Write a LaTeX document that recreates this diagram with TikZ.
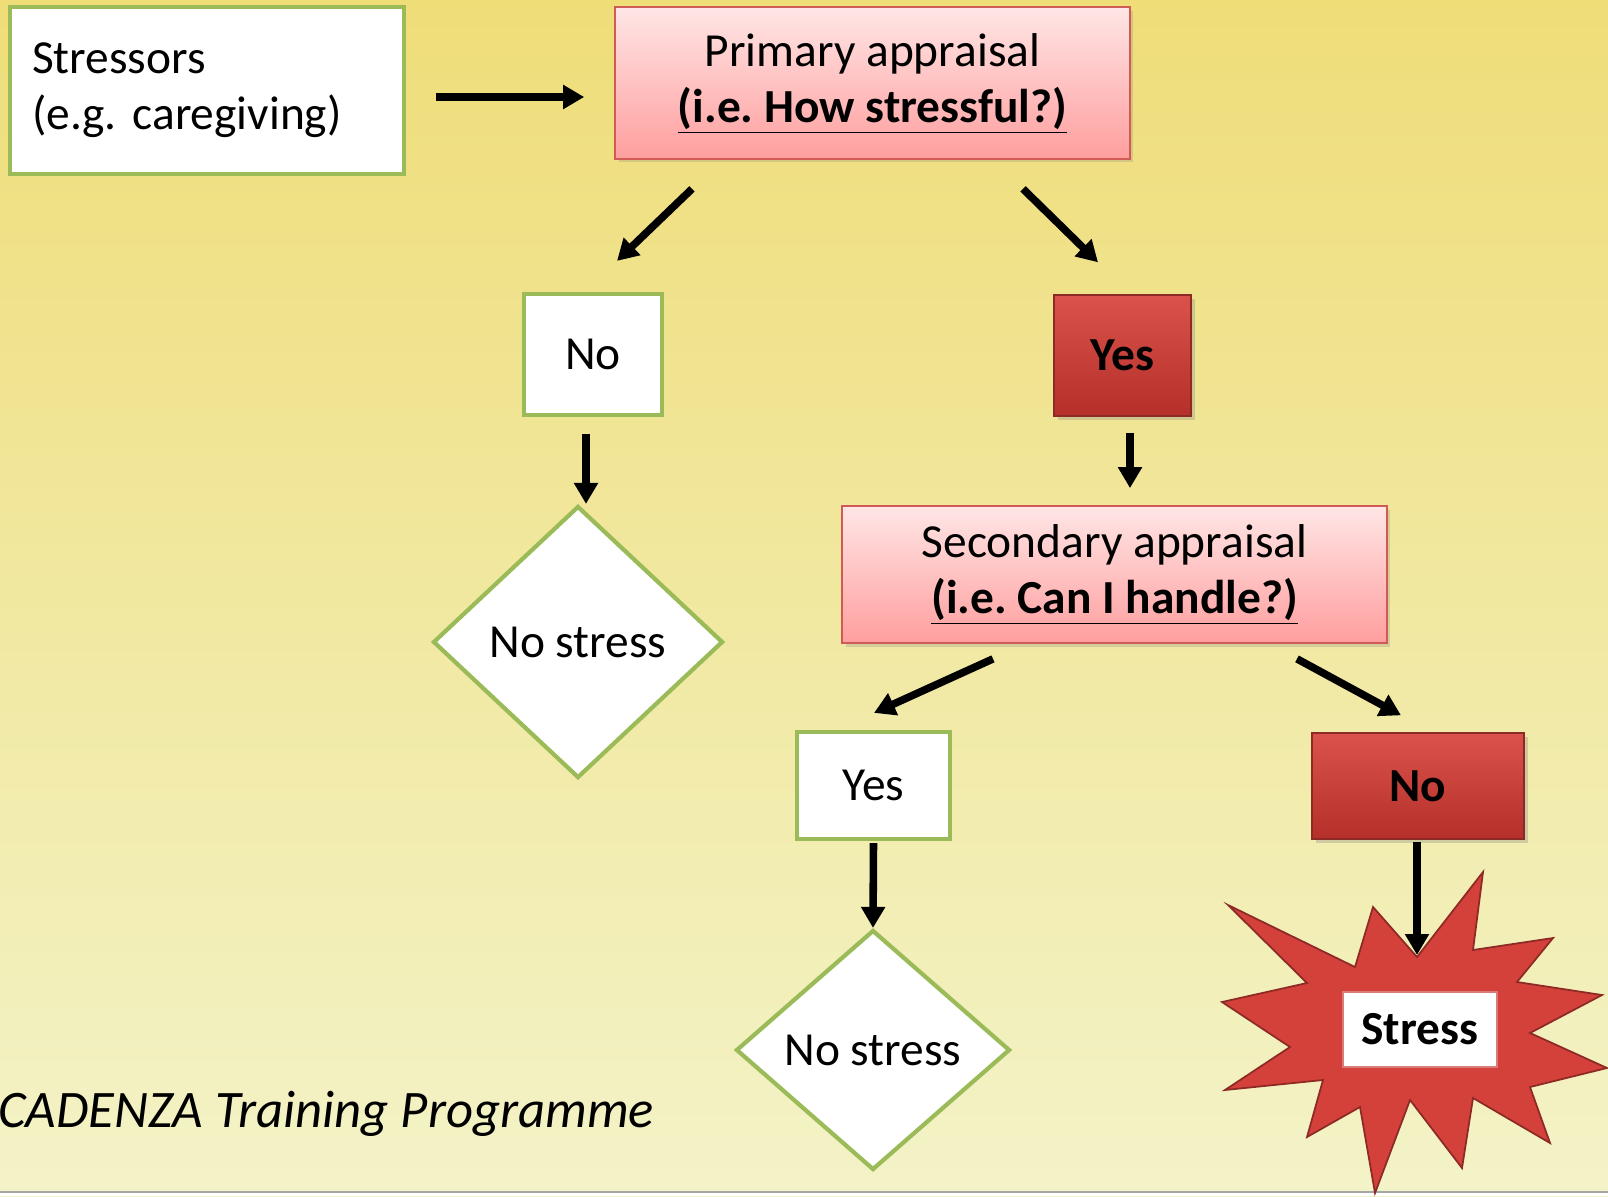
\documentclass[tikz,border=0pt]{standalone}
\usepackage{fontspec}
\setmainfont{Carlito}
\usetikzlibrary{arrows.meta,shapes.geometric,shadows,calc}
\definecolor{leafgreen}{HTML}{9BBB59}
\definecolor{pinkedge}{HTML}{D05A55}
\definecolor{redtop}{HTML}{DA524B}
\definecolor{redbot}{HTML}{B5302A}
\definecolor{redline}{HTML}{8E2A25}
\definecolor{starred}{HTML}{D4413B}

\begin{document}
\begin{tikzpicture}[x=0.02cm,y=-0.02cm,>={Triangle[length=0.42cm,width=0.46cm]}]
  \tikzset{
  box_base/.style = {align=center, inner sep=0pt, text centered,
    font=\fontsize{27}{32}\selectfont},
  box_g/.style = {box_base, rectangle, draw=leafgreen, line width=2.4pt,
    fill=white},% green framed box
  box_p/.style = {box_base, rectangle, draw=pinkedge, line width=1pt,
    top color=red!10, bottom color=red!38!white,
    drop shadow={opacity=0.25, shadow xshift=2pt, shadow yshift=-2pt}},% pink question box
  box_r/.style = {box_base, rectangle, draw=redline, line width=0.8pt,
    top color=redtop, bottom color=redbot, font=\fontsize{27}{32}\selectfont\bfseries,
    drop shadow={opacity=0.3, shadow xshift=2pt, shadow yshift=-2pt}},% red answer box
  dia_g/.style = {box_base, diamond, draw=leafgreen, line width=2.4pt,
    fill=white},% green end state
  arr/.style = {->, line width=4.3pt}
}

% page and background
\useasboundingbox (0,0) rectangle (1608,1196);
\clip (0,0) rectangle (1608,1196);
\shade[top color={rgb,255:red,239;green,221;blue,120},
  middle color={rgb,255:red,239;green,236;blue,146},
  bottom color={rgb,255:red,243;green,243;blue,200}] (0,0) rectangle (1608,1196);
\fill[white] (0,1192) rectangle (1608,1196);
\draw[gray!70, line width=1pt] (0,1192) -- (1608,1192);

% first row
\node [box_g, minimum width=7.88cm, minimum height=3.34cm, text width=7.0cm,
  align=left] (sb) at (207,90.5) {Stressors\\(e.g.\ caregiving)};
\node [box_p, minimum width=10.3cm, minimum height=3.04cm] (pa) at (872.5,83)
  {Primary appraisal\\\underline{\textbf{(i.e.\ How stressful?)}}};

% primary answers
\node [box_g, minimum width=2.76cm, minimum height=2.42cm] (no1) at (593,354.5) {No};
\node [box_r, minimum width=2.74cm, minimum height=2.42cm] (yes1) at (1122.5,355.5) {Yes};
\node [dia_g, minimum width=5.8cm, minimum height=5.44cm] (ns1) at (578,642) {No stress};

% second question
\node [box_p, minimum width=10.9cm, minimum height=2.74cm] (sa) at (1114.5,574.5)
  {Secondary appraisal\\\underline{\textbf{(i.e.\ Can I handle?)}}};
\node [box_g, minimum width=3.06cm, minimum height=2.14cm] (yes2) at (873.5,785.5) {Yes};
\node [box_r, minimum width=4.24cm, minimum height=2.12cm] (no2) at (1418,786) {No};
\node [dia_g, minimum width=5.48cm, minimum height=4.8cm] (ns2) at (873,1050) {No stress};

% the burst
\draw[fill=starred, draw=redline, line width=1pt, line join=miter]
  (1228,905) -- (1355,967) -- (1373,907) -- (1417,957) -- (1483,872)
  -- (1473,950) -- (1553,938) -- (1517,982) -- (1602,995) -- (1530,1033)
  -- (1607,1068) -- (1530,1087) -- (1550,1143) -- (1473,1098) -- (1462,1168)
  -- (1410,1100) -- (1375,1193) -- (1360,1107) -- (1307,1137) -- (1323,1080)
  -- (1225,1090) -- (1290,1047) -- (1222,1002) -- (1307,983) -- cycle;
\coordinate (notch) at (1417,955);
\node [box_base, rectangle, fill=white, draw=pinkedge!80, line width=1.5pt,
  minimum width=3.08cm, minimum height=1.5cm, font=\fontsize{27}{32}\selectfont\bfseries]
  (st) at (1420,1029.5) {Stress};

% arrows
\draw[arr] ($(sb.east)+(30,6.5)$) -- ($(pa.west)+(-30,14)$);
\draw[arr] ($(pa.south)+(-180.5,29)$) -- ($(no1.north)+(24,-31)$);
\draw[arr] ($(pa.south)+(150.5,29)$) -- ($(yes1.north)+(-24.5,-32)$);
\draw[arr] ($(no1.south)+(-7,17)$) -- ($(ns1.north)+(8,0)$);
\draw[arr] ($(yes1.south)+(7.5,16)$) -- ($(sa.north)+(15.5,-17)$);
\draw[arr] ($(sa.south)+(-121.5,15)$) -- ($(yes2.north)+(0.5,-17)$);
\draw[arr] ($(sa.south)+(182.5,15)$) -- ($(no2.north)+(-17,-17)$);
\draw[arr] ($(yes2.south)+(0,2)$) -- (ns2.north);
\draw[arr] ($(no2.south)+(-1,2)$) -- (notch);

% footer
\node [anchor=west, font=\fontsize{30}{36}\selectfont\itshape] (ft) at (-8,1114)
  {CADENZA Training Programme};
\end{tikzpicture}
\end{document}
